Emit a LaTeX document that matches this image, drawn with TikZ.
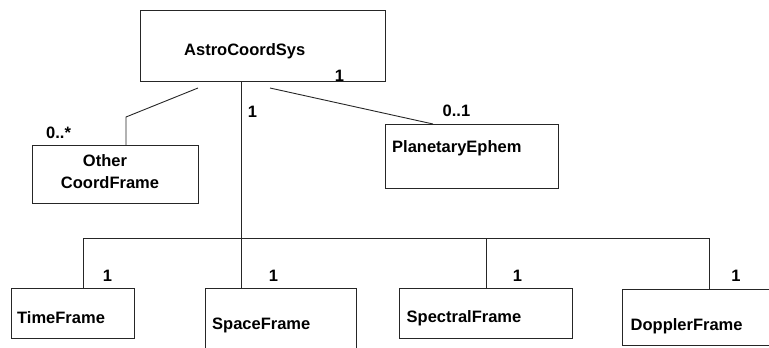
\documentclass[tikz,border=0pt]{standalone}
\usepackage{fontspec}
\setmainfont{Liberation Sans}
\begin{document}
\begin{tikzpicture}[x=1pt,y=-1pt,
  box/.style={draw=black!85,line width=0.9pt,rectangle,inner sep=0pt,anchor=north west},
  lbl/.style={inner sep=0pt,font=\fontsize{16.5}{19}\selectfont\bfseries},
  conn/.style={draw=black!85,line width=0.9pt}]
\useasboundingbox (0,0) rectangle (769,348);
% boxes
\node[box,minimum width=245pt,minimum height=71pt] (astro) at (140,10) {};
\node[box,minimum width=166pt,minimum height=58pt] (other) at (32,145) {};
\node[box,minimum width=173pt,minimum height=64pt] (planet) at (385,124) {};
\node[box,minimum width=123pt,minimum height=50pt] (time) at (11,288) {};
\node[box,minimum width=151pt,minimum height=70pt] (space) at (205,288) {};
\node[box,minimum width=173pt,minimum height=50pt] (spectral) at (399,288) {};
\node[box,minimum width=150pt,minimum height=56pt] (doppler) at (622,289) {};
% texts
\node[lbl,anchor=base west] (astroT) at (184,55) {AstroCoordSys};
\node[lbl,anchor=base] (astroM) at (339.5,81) {1};
\node[lbl,anchor=base] (trunkM) at (252.5,117) {1};
\node[lbl,anchor=base west] (otherM) at (46,138) {0..*};
\node[lbl,anchor=base] (otherT1) at (105,166.5) {Other};
\node[lbl,anchor=base] (otherT2) at (110,188) {CoordFrame};
\node[lbl,anchor=base west] (planetM) at (442.5,116.5) {0..1};
\node[lbl,anchor=base west] (planetT) at (392,152.5) {PlanetaryEphem};
\node[lbl,anchor=base west] (timeT) at (17,323) {TimeFrame};
\node[lbl,anchor=base west] (spaceT) at (212,329.5) {SpaceFrame};
\node[lbl,anchor=base west] (spectralT) at (406.5,322.5) {SpectralFrame};
\node[lbl,anchor=base west] (dopplerT) at (630.5,330) {DopplerFrame};
\node[lbl,anchor=base] (timeM) at (107.5,281) {1};
\node[lbl,anchor=base] (spaceM) at (273.5,281) {1};
\node[lbl,anchor=base] (spectralM) at (517.5,281) {1};
\node[lbl,anchor=base] (dopplerM) at (736,281) {1};
% connector points
\coordinate (oA) at (198,88);
\coordinate (oB) at (126,117);
\coordinate (pA) at (270,88);
\coordinate (pB) at (433,124);
\coordinate (trunk) at (241,238);
\coordinate (busL) at (83,238);
\coordinate (bSpec) at (486,238);
\coordinate (busR) at (709,238);
% connectors
\draw[conn] (oA) -- (oB) -- (oB |- other.north);
\draw[conn] (pA) -- (pB |- planet.north);
\draw[conn] (trunk |- astro.south) -- (trunk |- space.north);
\draw[conn] (busL |- time.north) -- (busL) -- (busR) -- (busR |- doppler.north);
\draw[conn] (bSpec) -- (bSpec |- spectral.north);
\end{tikzpicture}
\end{document}
